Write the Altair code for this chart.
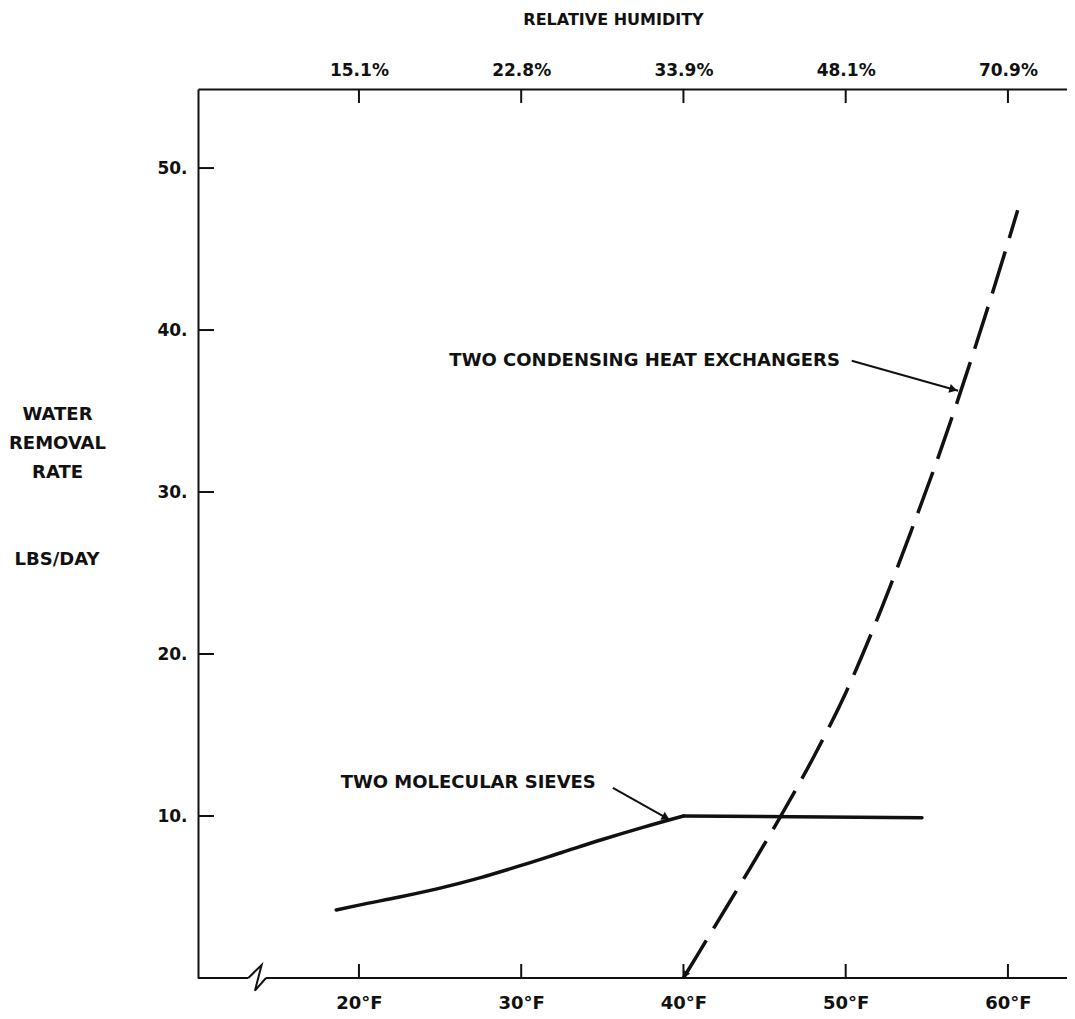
import math
import altair as alt
import pandas as pd

# ---------------- data ----------------
sieve_temp = [18.6, 20, 22.5, 25, 27.5, 30, 32.5, 35, 37.5, 40, 54.7]
sieve_rate = [4.2, 4.5, 5.0, 5.55, 6.2, 6.95, 7.75, 8.55, 9.3, 10.0, 9.9]

hx_temp = [40, 42, 44, 46, 48, 50, 52, 54, 56, 58, 60, 60.6]
hx_rate = [0, 3.3, 6.6, 10.0, 13.6, 17.6, 22.3, 27.5, 33.0, 39.0, 45.4, 47.4]

temp_ticks = [20, 30, 40, 50, 60]
humidity_labels = ["15.1%", "22.8%", "33.9%", "48.1%", "70.9%"]
rate_ticks = [10, 20, 30, 40, 50]

label_texts = ["TWO CONDENSING HEAT EXCHANGERS", "TWO MOLECULAR SIEVES"]
label_x = [49.64, 34.6]
label_y = [38.09, 12.04]
arrow_x = [50.37, 35.65]
arrow_y = [38.10, 11.73]
arrow_x2 = [56.93, 39.19]
arrow_y2 = [36.25, 9.75]

unit_text = ["LBS/DAY"]
unit_y = [25.8]

break_x = [13.18, 14.0, 13.59, 14.27]
break_y = [0, 0.80, -0.78, 0]

X_DOMAIN = [10.08, 63.64]
Y_DOMAIN = [0, 54.88]
W, H = 869, 889
PXX = W / (X_DOMAIN[1] - X_DOMAIN[0])
PXY = H / (Y_DOMAIN[1] - Y_DOMAIN[0])

FONT = "DejaVu Sans"
BLACK = "#111111"

xscale = alt.Scale(domain=X_DOMAIN, nice=False, zero=False)
yscale = alt.Scale(domain=Y_DOMAIN, nice=False, zero=False)

x_axis = alt.Axis(values=temp_ticks, labelExpr="datum.value + '\u00b0F'", ticks=False, tickSize=0,
                  domain=False, grid=False, labelFontSize=18, labelFontWeight="bold", labelFont=FONT,
                  labelColor=BLACK, labelPadding=16, title=None)
y_axis = alt.Axis(values=rate_ticks, labelExpr="datum.value + '.'", ticks=False, tickSize=0,
                  domain=True, domainWidth=2, domainColor=BLACK, grid=False,
                  labelFontSize=17, labelFontWeight="bold", labelFont=FONT, labelColor=BLACK,
                  labelPadding=11,
                  title=["WATER", "REMOVAL", "RATE"],
                  titleAngle=0, titleX=-141, titleY=316, titleAlign="center", titleBaseline="top",
                  titleFontSize=18, titleFontWeight="bold", titleFont=FONT, titleColor=BLACK,
                  titleLineHeight=29)

expr = "''"
for t, h in reversed(list(zip(temp_ticks, humidity_labels))):
    expr = f"datum.value == {t} ? '{h}' : ({expr})"
top_axis = alt.Axis(orient="top", values=temp_ticks, labelExpr=expr, ticks=False, tickSize=0,
                    domain=True, domainWidth=2, domainColor=BLACK, grid=False,
                    labelFontSize=17, labelFontWeight="bold", labelFont=FONT, labelColor=BLACK,
                    labelPadding=10, title="RELATIVE HUMIDITY", titleX=415, titleY=-65,
                    titleAlign="center", titleBaseline="alphabetic", titleFontSize=16,
                    titleFontWeight="bold", titleFont=FONT, titleColor=BLACK)

# ---------------- data frames ----------------
knee = sieve_temp.index(40)
sieve_curve_df = pd.DataFrame({"temp": sieve_temp[:knee + 1], "rate": sieve_rate[:knee + 1]})
sieve_flat_df = pd.DataFrame({"temp": sieve_temp[knee:], "rate": sieve_rate[knee:]})
hx_df = pd.DataFrame({"temp": hx_temp, "rate": hx_rate})
tick_df = pd.DataFrame({"temp": temp_ticks, "y0": Y_DOMAIN[0], "y1": Y_DOMAIN[0] + 14 / PXY,
                        "t0": Y_DOMAIN[1] - 14 / PXY, "t1": Y_DOMAIN[1]})
ytick_df = pd.DataFrame({"rate": rate_ticks, "x0": X_DOMAIN[0], "x1": X_DOMAIN[0] + 16 / PXX})
domain_df = pd.DataFrame({"x0": [X_DOMAIN[0], break_x[-1]], "x1": [break_x[0], X_DOMAIN[1]], "y": [0, 0]})
break_df = pd.DataFrame({"x": break_x, "y": break_y, "o": list(range(len(break_x)))})
label_df = pd.DataFrame({"text": label_texts, "x": label_x, "y": label_y})
arrow_df = pd.DataFrame({"x": arrow_x, "y": arrow_y, "x2": arrow_x2, "y2": arrow_y2})
unit_df = pd.DataFrame({"text": unit_text, "x": [X_DOMAIN[0] - 141 / PXX], "y": unit_y})

# arrow heads placed at the arrow tips, pointing along the arrow direction
heads = []
for x1, y1, x2, y2 in zip(arrow_x, arrow_y, arrow_x2, arrow_y2):
    dx = (x2 - x1) * PXX
    dy = -(y2 - y1) * PXY
    ang = math.degrees(math.atan2(dy, dx)) % 360
    L = math.hypot(dx, dy)
    back = 5
    heads.append({"x": x2 - back * dx / L / PXX, "y": y2 + back * dy / L / PXY, "angle": ang, "s": 80})
dx = (hx_temp[0] - hx_temp[1]) * PXX
dy = -(hx_rate[0] - hx_rate[1]) * PXY
ang = math.degrees(math.atan2(dy, dx)) % 360
L = math.hypot(dx, dy)
heads.append({"x": hx_temp[0] - 4 * dx / L / PXX, "y": hx_rate[0] + 4 * dy / L / PXY, "angle": ang, "s": 50})
head_df = pd.DataFrame(heads)


def X(field):
    return alt.X(field, type="quantitative", scale=xscale, axis=x_axis)


def Y(field):
    return alt.Y(field, type="quantitative", scale=yscale, axis=y_axis)


sieve_curve = alt.Chart(sieve_curve_df).mark_line(color=BLACK, strokeWidth=3.5, strokeCap="round",
                                                  interpolate="monotone").encode(
    x=X("temp"), y=Y("rate"))
sieve_flat = alt.Chart(sieve_flat_df).mark_line(color=BLACK, strokeWidth=3.5, strokeCap="round").encode(
    x=X("temp"), y=Y("rate"))
hx = alt.Chart(hx_df).mark_line(color=BLACK, strokeWidth=3.5, strokeDash=[44, 14],
                                interpolate="monotone").encode(
    x=X("temp"), y=Y("rate"))
bticks = alt.Chart(tick_df).mark_rule(color=BLACK, strokeWidth=2).encode(
    x=X("temp"), y=Y("y0"), y2="y1")
lticks = alt.Chart(ytick_df).mark_rule(color=BLACK, strokeWidth=2).encode(
    x=X("x0"), x2="x1", y=Y("rate"))
bdomain = alt.Chart(domain_df).mark_rule(color=BLACK, strokeWidth=2).encode(
    x=X("x0"), x2="x1", y=Y("y"))
brk = alt.Chart(break_df).mark_line(color=BLACK, strokeWidth=2).encode(
    x=X("x"), y=Y("y"), order="o")
labels = alt.Chart(label_df).mark_text(align="right", baseline="middle", font=FONT, fontSize=18,
                                       fontWeight="bold", color=BLACK).encode(
    x=X("x"), y=Y("y"), text="text")
unit = alt.Chart(unit_df).mark_text(align="center", baseline="middle", font=FONT, fontSize=18,
                                    fontWeight="bold", color=BLACK).encode(
    x=X("x"), y=Y("y"), text="text")
arrows = alt.Chart(arrow_df).mark_rule(color=BLACK, strokeWidth=2).encode(
    x=X("x"), y=Y("y"), x2="x2", y2="y2")
arrowheads = alt.Chart(head_df).mark_point(shape="triangle-right", filled=True, color=BLACK,
                                           opacity=1).encode(
    x=X("x"), y=Y("y"), angle=alt.Angle("angle", type="quantitative", scale=None),
    size=alt.Size("s", type="quantitative", scale=None))

main = alt.layer(sieve_curve, sieve_flat, hx, bticks, lticks, bdomain, brk, labels, unit,
                 arrows, arrowheads)

top = alt.Chart(tick_df).mark_rule(color=BLACK, strokeWidth=2).encode(
    x=alt.X("temp", type="quantitative", scale=xscale, axis=top_axis),
    y=Y("t0"), y2="t1")

chart = alt.layer(main, top).resolve_scale(x="independent").properties(
    width=W, height=H,
    autosize=alt.AutoSizeParams(type="none"),
    padding={"left": 190, "top": 81, "right": 0, "bottom": 36},
    background="white",
).configure_view(stroke=None)

chart.save("out.html", embed_options={"renderer": "svg", "actions": False})
